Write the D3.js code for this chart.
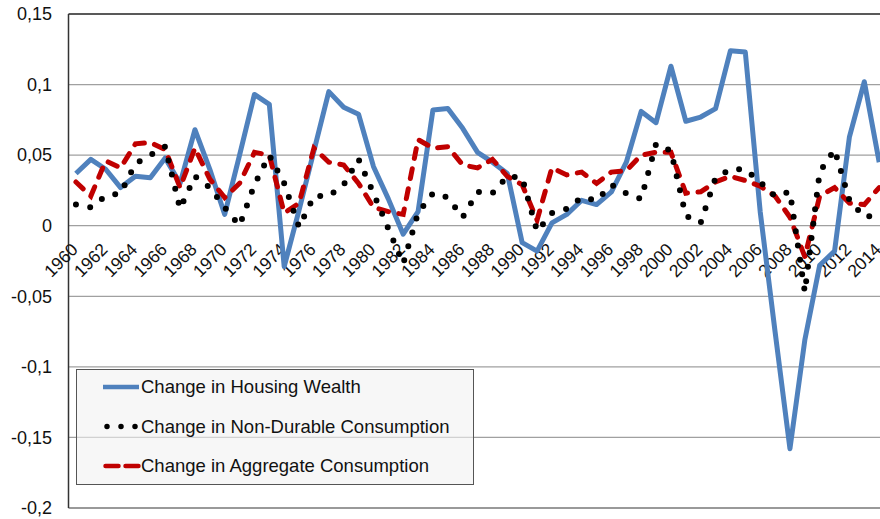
<!DOCTYPE html>
<html>
<head>
<meta charset="utf-8">
<script src="https://cdn.jsdelivr.net/npm/d3@7"></script>
<style>
  body { margin: 0; background: #fff; }
  svg { display: block; font-family: "Liberation Sans", Arial, sans-serif; }
</style>
</head>
<body>
<div id="main"></div>
<script>
const years = [1960, 1961, 1962, 1963, 1964, 1965, 1966, 1967, 1968, 1969,
    1970, 1971, 1972, 1973, 1974, 1975, 1976, 1977, 1978, 1979,
    1980, 1981, 1982, 1983, 1984, 1985, 1986, 1987, 1988, 1989,
    1990, 1991, 1992, 1993, 1994, 1995, 1996, 1997, 1998, 1999,
    2000, 2001, 2002, 2003, 2004, 2005, 2006, 2007, 2008, 2009,
    2010, 2011, 2012, 2013, 2014, 2015];

const housingWealth = [0.037, 0.047, 0.040, 0.027, 0.035, 0.034, 0.048, 0.030, 0.068, 0.040,
    0.008, 0.050, 0.093, 0.086, -0.029, 0.011, 0.053, 0.095, 0.084, 0.079,
    0.042, 0.019, -0.006, 0.010, 0.082, 0.083, 0.069, 0.052, 0.045, 0.037,
    -0.012, -0.018, 0.002, 0.008, 0.018, 0.015, 0.024, 0.045, 0.081, 0.073,
    0.113, 0.074, 0.077, 0.083, 0.124, 0.123, 0.010, -0.075, -0.158, -0.081,
    -0.028, -0.018, 0.063, 0.102, 0.045];

const nonDurable = [0.015, 0.013, 0.021, 0.023, 0.044, 0.050, 0.056, 0.012, 0.035, 0.027,
    0.013, 0.000, 0.029, 0.050, 0.030, -0.001, 0.021, 0.021, 0.029, 0.047,
    0.023, -0.002, -0.027, 0.009, 0.023, 0.020, 0.006, 0.024, 0.023, 0.035,
    0.034, -0.004, 0.009, 0.012, 0.020, 0.018, 0.029, 0.023, 0.019, 0.058,
    0.053, 0.007, 0.002, 0.034, 0.040, 0.040, 0.031, 0.021, 0.024, -0.047,
    0.038, 0.054, 0.018, 0.006, 0.008];

const aggregate = [0.031, 0.021, 0.046, 0.041, 0.058, 0.059, 0.054, 0.027, 0.055, 0.033,
    0.020, 0.030, 0.052, 0.050, 0.009, 0.016, 0.055, 0.045, 0.043, 0.030,
    0.013, 0.010, 0.008, 0.061, 0.055, 0.056, 0.043, 0.041, 0.047, 0.035,
    0.029, 0.004, 0.041, 0.036, 0.038, 0.030, 0.038, 0.039, 0.050, 0.052,
    0.052, 0.023, 0.024, 0.031, 0.035, 0.032, 0.028, 0.021, 0.006, -0.022,
    0.021, 0.027, 0.016, 0.015, 0.027];

const yTicks = [-0.2, -0.15, -0.1, -0.05, 0, 0.05, 0.1, 0.15];
const xLabels = [1960, 1962, 1964, 1966, 1968, 1970, 1972, 1974, 1976, 1978,
    1980, 1982, 1984, 1986, 1988, 1990, 1992, 1994, 1996, 1998,
    2000, 2002, 2004, 2006, 2008, 2010, 2012, 2014];

const seriesNames = ["Change in Housing Wealth", "Change in Non-Durable Consumption", "Change in Aggregate Consumption"];

const ctx = {
    w: 880,
    h: 519,
    left: 68.5,
    top: 14,
    bottom: 508,
    step: 14.875,
    gridColor: "#a0a0a0",
    blue: "#4f81bd",
    red: "#c00000",
};

const locale = d3.formatLocale({ decimal: ",", thousands: ".", grouping: [3], currency: ["", ""], minus: "-" });
const fmt = locale.format(".2~f");

const svg = d3.select("#main").append("svg")
    .attr("width", ctx.w)
    .attr("height", ctx.h);

const x = d3.scaleBand()
    .domain(years)
    .range([ctx.left, ctx.left + ctx.step * years.length])
    .paddingInner(0).paddingOuter(0);
const cx = d => x(d) + x.bandwidth() / 2;

const y = d3.scaleLinear()
    .domain([-0.2, 0.15])
    .range([ctx.bottom, ctx.top]);

// gridlines
svg.append("g").selectAll("line")
    .data(yTicks)
    .enter().append("line")
    .attr("x1", ctx.left).attr("x2", ctx.w)
    .attr("y1", d => y(d)).attr("y2", d => y(d))
    .attr("stroke", d => d === 0.15 ? "#222" : (d === -0.2 ? "#777" : ctx.gridColor))
    .attr("stroke-width", d => (d === 0.15 || d === -0.2) ? 1.5 : 1.2);

// left axis
svg.append("line")
    .attr("x1", ctx.left).attr("x2", ctx.left)
    .attr("y1", ctx.top).attr("y2", ctx.bottom)
    .attr("stroke", "#333").attr("stroke-width", 1.5);

// y tick labels
svg.append("g").selectAll("text")
    .data(yTicks)
    .enter().append("text")
    .attr("x", 52)
    .attr("y", d => y(d))
    .attr("dy", "0.35em")
    .attr("text-anchor", "end")
    .style("font-size", "18px")
    .style("fill", "#111")
    .text(d => fmt(d));

// x labels, rotated
svg.append("g").selectAll("text")
    .data(xLabels)
    .enter().append("text")
    .attr("transform", d => `translate(${cx(d) + 3},${y(0) + 25}) rotate(-45)`)
    .attr("text-anchor", "end")
    .style("font-size", "17.5px")
    .style("fill", "#111")
    .text(d => d);

const line = d3.line()
    .x((d, i) => cx(years[i]))
    .y(d => y(d));

const plot = svg.append("g");

plot.append("path")
    .datum(housingWealth)
    .attr("d", line)
    .attr("fill", "none")
    .attr("stroke", ctx.blue)
    .attr("stroke-width", 5)
    .attr("stroke-linejoin", "round");

plot.append("path")
    .datum(aggregate)
    .attr("d", line)
    .attr("fill", "none")
    .attr("stroke", ctx.red)
    .attr("stroke-width", 5)
    .attr("stroke-linecap", "round")
    .attr("stroke-dasharray", "10,10.5");

plot.append("path")
    .datum(nonDurable)
    .attr("d", line)
    .attr("fill", "none")
    .attr("stroke", "#000")
    .attr("stroke-width", 6)
    .attr("stroke-linecap", "round")
    .attr("stroke-dasharray", "0,14.5");

// legend
const lg = svg.append("g");
lg.append("rect")
    .attr("x", 76.5).attr("y", 369.5)
    .attr("width", 397).attr("height", 115)
    .attr("fill", "#f2f2f2").attr("fill-opacity", 0.6)
    .attr("stroke", "#555").attr("stroke-width", 1);

const rows = [387, 426.5, 466];
const styles = [
    { stroke: ctx.blue, width: 4.5, dash: null, cap: "butt" },
    { stroke: "#000", width: 5.5, dash: "0,14", cap: "round" },
    { stroke: ctx.red, width: 4.5, dash: "13,7", cap: "round" },
];
seriesNames.forEach((name, i) => {
    lg.append("line")
        .attr("x1", i === 1 ? 107 : (i === 2 ? 105.5 : 103))
        .attr("x2", 139)
        .attr("y1", rows[i]).attr("y2", rows[i])
        .attr("stroke", styles[i].stroke)
        .attr("stroke-width", styles[i].width)
        .attr("stroke-linecap", styles[i].cap)
        .attr("stroke-dasharray", styles[i].dash);
    lg.append("text")
        .attr("x", 141)
        .attr("y", rows[i])
        .attr("dy", "0.35em")
        .style("font-size", "18.5px")
        .style("fill", "#111")
        .text(name);
});
</script>
</body>
</html>
